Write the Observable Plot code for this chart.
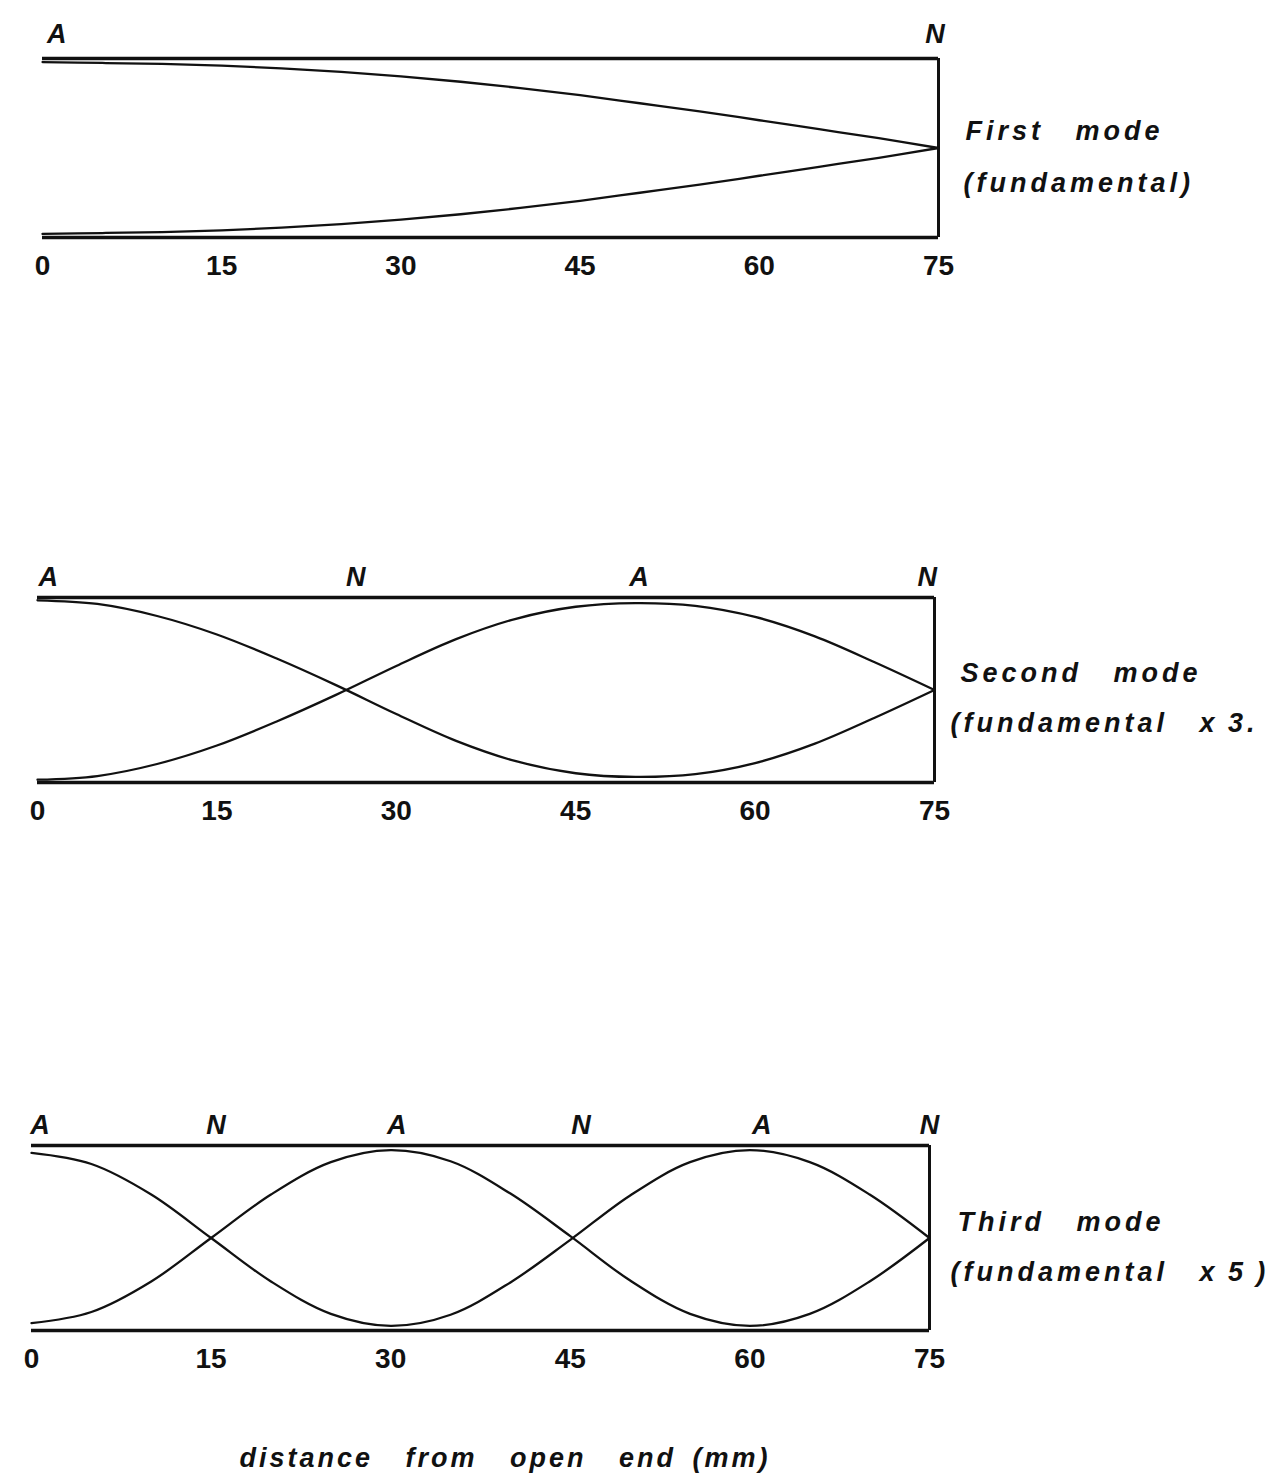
<!DOCTYPE html>
<html>
<head>
<meta charset="utf-8">
<script src="https://cdn.jsdelivr.net/npm/d3@7"></script>
<script src="https://cdn.jsdelivr.net/npm/@observablehq/plot@0.6"></script>
<style>
  html, body { margin: 0; padding: 0; background: #fff; }
  #page { position: relative; width: 1278px; height: 1477px; background: #fff; overflow: hidden; }
  #page svg { position: absolute; left: 0; }
  g[aria-label="x-axis tick label"] text { font-weight: bold; }
  #xtitle { position: absolute; left: 0; width: 1010px; text-align: center; top: 1443px;
    font: italic bold 27px "Liberation Sans", Arial, sans-serif; letter-spacing: 3px; word-spacing: 22px; color: #111; line-height: 30px; }
</style>
</head>
<body>
<div id="page"></div>
<script>
// ---- data ----
const tubeStart = 0;
const tubeEnd = 75;                       // mm
const walls = [1, -1];                    // normalised tube walls
const xTicks = [0, 15, 30, 45, 60, 75];   // tick labels (mm)
const positions = [0, 5, 10, 15, 20, 25, 30, 35, 40, 45, 50, 55, 60, 65, 70, 75];

// pressure-amplitude envelopes (fraction of tube half-width), read at each position
const mode1Amp = [0.96, 0.95, 0.94, 0.92, 0.89, 0.85, 0.80, 0.74, 0.67, 0.59, 0.50, 0.41, 0.31, 0.21, 0.11, 0.00];
const mode2Amp = [0.97, 0.93, 0.80, 0.60, 0.34, 0.05, -0.26, -0.55, -0.77, -0.90, -0.94, -0.91, -0.79, -0.58, -0.30, 0.00];
const mode3Amp = [0.92, 0.80, 0.47, 0.00, -0.47, -0.82, -0.95, -0.83, -0.48, -0.02, 0.46, 0.82, 0.95, 0.82, 0.47, 0.00];

// antinode / node markers
const mode1Marks = ["A", "N"];
const mode1MarkX = [1.2, 74.7];
const mode2Marks = ["A", "N", "A", "N"];
const mode2MarkX = [0.9, 26.6, 50.3, 74.4];
const mode3Marks = ["A", "N", "A", "N", "A", "N"];
const mode3MarkX = [0.7, 15.4, 30.5, 45.9, 61.0, 75.0];

const modeTitles = ["First mode", "Second mode", "Third mode"];
const modeSubtitles = ["(fundamental)", "(fundamental x\u20093.", "(fundamental x\u20095\u2009)"];
const xTitle = "distance from open end\u2002(mm)";

// ---- drawing ----
const FONT = '"Liberation Sans", Arial, Helvetica, sans-serif';
const INK = "#111";

const panels = [
  {amp: mode1Amp, marks: mode1Marks, markX: mode1MarkX, title: modeTitles[0], sub: modeSubtitles[0],
   top: 0, height: 300, mt: 58, mb: 63, ml: 42, mr: 340, markDy: -24, titleDx: 27, subDx: 25, titleDy: -17, subDy: 35},
  {amp: mode2Amp, marks: mode2Marks, markX: mode2MarkX, title: modeTitles[1], sub: modeSubtitles[1],
   top: 540, height: 300, mt: 57, mb: 58, ml: 37, mr: 344, markDy: -20, titleDx: 26, subDx: 16, titleDy: -17, subDy: 33},
  {amp: mode3Amp, marks: mode3Marks, markX: mode3MarkX, title: modeTitles[2], sub: modeSubtitles[2],
   top: 1090, height: 300, mt: 55, mb: 60, ml: 31, mr: 349, markDy: -20, titleDx: 28, subDx: 21, titleDy: -16, subDy: 34}
];

const page = document.getElementById("page");

for (const p of panels) {
  const curve = positions.map((x, i) => ({x, a: p.amp[i]}));
  const labels = p.marks.map((t, i) => ({t, x: p.markX[i]}));
  const svg = Plot.plot({
    width: 1278,
    height: p.height,
    marginTop: p.mt,
    marginBottom: p.mb,
    marginLeft: p.ml,
    marginRight: p.mr,
    x: {domain: [tubeStart, tubeEnd]},
    y: {domain: [-1, 1], axis: null},
    style: {background: "transparent", color: INK, fontFamily: FONT, overflow: "visible"},
    marks: [
      // tube walls
      Plot.ruleY(walls, {y: d => d, x1: tubeStart, x2: tubeEnd, stroke: INK, strokeWidth: 3.6}),
      Plot.ruleX([tubeEnd], {y1: walls[1], y2: walls[0], stroke: INK, strokeWidth: 3}),
      // envelopes
      Plot.line(curve, {x: "x", y: d => d.a, curve: "catmull-rom", stroke: INK, strokeWidth: 2.3}),
      Plot.line(curve, {x: "x", y: d => -d.a, curve: "catmull-rom", stroke: INK, strokeWidth: 2.3}),
      // A / N markers
      Plot.text(labels, {x: "x", y: walls[0], text: "t", dy: p.markDy, fontSize: 27, fontWeight: "bold",
        fontStyle: "italic", fill: INK}),
      // axis
      Plot.axisX({ticks: xTicks, tickSize: 0, tickPadding: 18, fontSize: 28, fontWeight: "bold",
        tickFormat: d => String(d), label: null, fill: INK}),
      // right-hand annotations
      Plot.text([p.title], {frameAnchor: "right", text: d => d, dx: p.titleDx, dy: p.titleDy, textAnchor: "start",
        fontSize: 27, fontWeight: "bold", fontStyle: "italic", fill: INK}),
      Plot.text([p.sub], {frameAnchor: "right", text: d => d, dx: p.subDx, dy: p.subDy, textAnchor: "start",
        fontSize: 27, fontWeight: "bold", fontStyle: "italic", fill: INK})
    ]
  });
  // spaced-out lettering of the side annotations, as in the original typesetting
  d3.select(svg).selectAll("text")
    .filter(function () { return this.textContent === p.title || this.textContent === p.sub; })
    .style("letter-spacing", "4px")
    .style("word-spacing", "20px");
  svg.style.top = p.top + "px";
  page.appendChild(svg);
}

const title = document.createElement("div");
title.id = "xtitle";
title.textContent = xTitle;
page.appendChild(title);
</script>
</body>
</html>
